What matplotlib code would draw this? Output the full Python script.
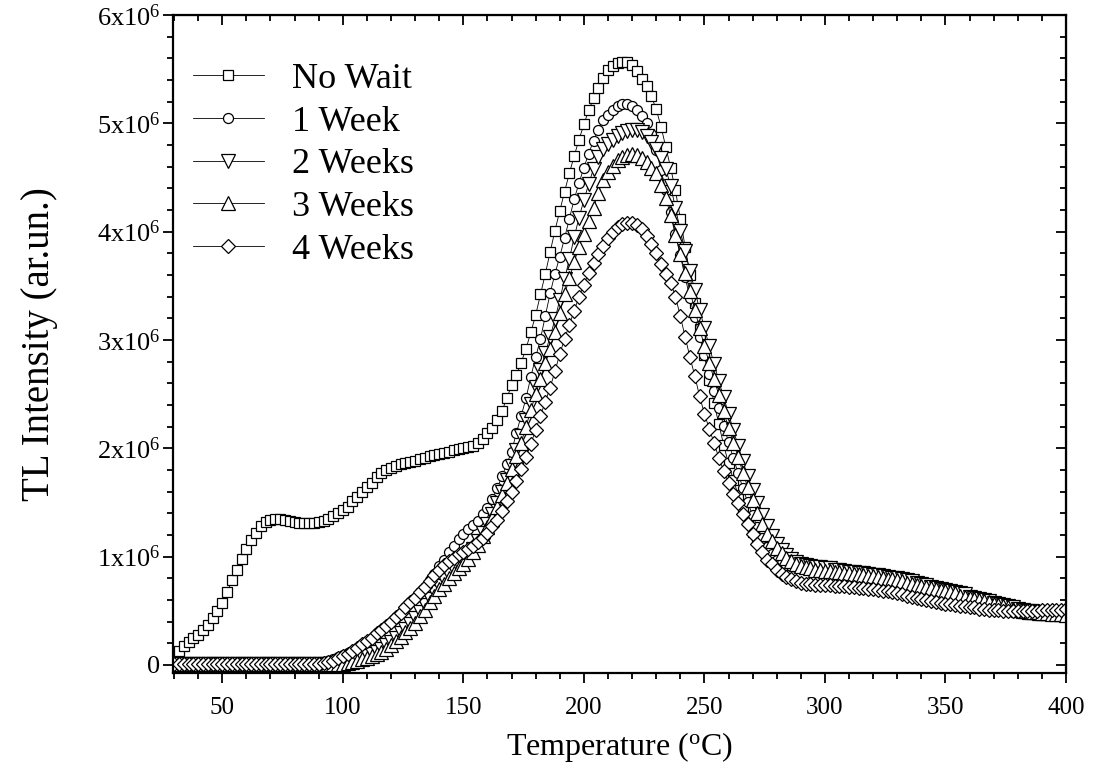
import numpy as np
import matplotlib
matplotlib.use('Agg')
import matplotlib.pyplot as plt
from matplotlib.ticker import MultipleLocator

plt.rcParams['font.family'] = ['Liberation Serif', 'DejaVu Serif']
plt.rcParams['mathtext.fontset'] = 'custom'
plt.rcParams['mathtext.rm'] = 'Liberation Serif'
plt.rcParams['mathtext.it'] = 'Liberation Serif:italic'

# temperature readings, one every 2 degC
temperature = np.arange(30, 401, 2)

# TL intensity in units of 1e6
no_wait = [
    0.09, 0.13, 0.17, 0.21, 0.25, 0.28, 0.32, 0.37, 0.43, 0.50,
    0.57, 0.67, 0.78, 0.88, 0.98, 1.07, 1.15, 1.22, 1.28, 1.32,
    1.34, 1.35, 1.35, 1.34, 1.33, 1.32, 1.31, 1.31, 1.31, 1.31,
    1.32, 1.33, 1.35, 1.37, 1.40, 1.43, 1.46, 1.51, 1.55, 1.60,
    1.64, 1.68, 1.73, 1.77, 1.80, 1.82, 1.84, 1.85, 1.86, 1.87,
    1.88, 1.90, 1.91, 1.93, 1.94, 1.95, 1.96, 1.97, 1.98, 1.99,
    2.00, 2.01, 2.02, 2.05, 2.09, 2.14, 2.19, 2.26, 2.34, 2.46,
    2.58, 2.68, 2.79, 2.92, 3.07, 3.23, 3.42, 3.61, 3.81, 4.01,
    4.19, 4.37, 4.54, 4.70, 4.85, 4.99, 5.12, 5.23, 5.33, 5.42,
    5.49, 5.53, 5.56, 5.57, 5.57, 5.54, 5.48, 5.41, 5.34, 5.25,
    5.13, 4.97, 4.78, 4.59, 4.38, 4.12, 3.86, 3.60, 3.34, 3.10,
    2.86, 2.63, 2.42, 2.22, 2.03, 1.86, 1.71, 1.57, 1.44, 1.33,
    1.23, 1.15, 1.08, 1.03, 0.99, 0.96, 0.94, 0.93, 0.92, 0.91,
    0.91, 0.90, 0.90, 0.89, 0.89, 0.88, 0.88, 0.87, 0.87, 0.86,
    0.86, 0.85, 0.85, 0.84, 0.84, 0.83, 0.82, 0.82, 0.81, 0.80,
    0.79, 0.78, 0.77, 0.76, 0.75, 0.74, 0.73, 0.72, 0.71, 0.70,
    0.68, 0.67, 0.66, 0.65, 0.64, 0.62, 0.61, 0.60, 0.59, 0.58,
    0.57, 0.55, 0.54, 0.52, 0.50, 0.49, 0.48, 0.47, 0.47, 0.46,
    0.46, 0.46, 0.46, 0.46, 0.46, 0.46,
]
week_1 = [
    0.01, 0.01, 0.01, 0.01, 0.01, 0.01, 0.01, 0.01, 0.01, 0.01,
    0.01, 0.01, 0.01, 0.01, 0.01, 0.01, 0.01, 0.01, 0.01, 0.01,
    0.01, 0.01, 0.01, 0.01, 0.01, 0.01, 0.01, 0.02, 0.02, 0.02,
    0.02, 0.03, 0.04, 0.05, 0.07, 0.09, 0.11, 0.13, 0.16, 0.19,
    0.22, 0.25, 0.29, 0.32, 0.36, 0.40, 0.44, 0.48, 0.53, 0.58,
    0.62, 0.67, 0.72, 0.78, 0.84, 0.91, 0.97, 1.04, 1.10, 1.16,
    1.21, 1.25, 1.29, 1.33, 1.39, 1.45, 1.53, 1.63, 1.74, 1.85,
    1.97, 2.14, 2.30, 2.46, 2.66, 2.84, 3.01, 3.22, 3.43, 3.61,
    3.77, 3.94, 4.12, 4.30, 4.45, 4.59, 4.72, 4.84, 4.94, 5.03,
    5.08, 5.12, 5.16, 5.18, 5.18, 5.16, 5.12, 5.07, 5.00, 4.90,
    4.75, 4.57, 4.38, 4.18, 3.98, 3.78, 3.58, 3.39, 3.21, 3.03,
    2.86, 2.69, 2.53, 2.37, 2.21, 2.06, 1.91, 1.77, 1.63, 1.50,
    1.38, 1.27, 1.17, 1.09, 1.02, 0.97, 0.94, 0.92, 0.91, 0.90,
    0.89, 0.89, 0.88, 0.88, 0.87, 0.87, 0.86, 0.86, 0.85, 0.85,
    0.84, 0.84, 0.83, 0.83, 0.82, 0.81, 0.81, 0.80, 0.79, 0.78,
    0.77, 0.76, 0.75, 0.74, 0.73, 0.72, 0.71, 0.70, 0.69, 0.68,
    0.67, 0.66, 0.65, 0.64, 0.63, 0.62, 0.61, 0.60, 0.59, 0.58,
    0.57, 0.56, 0.55, 0.54, 0.53, 0.52, 0.51, 0.50, 0.50, 0.49,
    0.49, 0.49, 0.48, 0.48, 0.48, 0.48,
]
week_2 = [
    0.01, 0.01, 0.01, 0.01, 0.01, 0.01, 0.01, 0.01, 0.01, 0.01,
    0.01, 0.01, 0.01, 0.01, 0.01, 0.01, 0.01, 0.01, 0.01, 0.01,
    0.01, 0.01, 0.01, 0.01, 0.01, 0.01, 0.01, 0.01, 0.01, 0.01,
    0.01, 0.01, 0.01, 0.02, 0.02, 0.02, 0.03, 0.04, 0.05, 0.06,
    0.08, 0.10, 0.12, 0.15, 0.18, 0.21, 0.25, 0.29, 0.33, 0.38,
    0.43, 0.49, 0.55, 0.61, 0.67, 0.73, 0.78, 0.83, 0.88, 0.92,
    0.96, 1.01, 1.07, 1.14, 1.22, 1.30, 1.39, 1.49, 1.60, 1.71,
    1.84, 1.98, 2.11, 2.26, 2.41, 2.57, 2.72, 2.88, 3.03, 3.19,
    3.37, 3.56, 3.75, 3.95, 4.13, 4.29, 4.44, 4.58, 4.69, 4.76,
    4.81, 4.85, 4.88, 4.91, 4.93, 4.94, 4.94, 4.92, 4.88, 4.83,
    4.76, 4.68, 4.58, 4.42, 4.22, 4.01, 3.82, 3.64, 3.46, 3.28,
    3.11, 2.94, 2.78, 2.62, 2.47, 2.32, 2.17, 2.02, 1.88, 1.74,
    1.61, 1.49, 1.38, 1.28, 1.19, 1.12, 1.06, 1.01, 0.98, 0.95,
    0.93, 0.92, 0.91, 0.90, 0.90, 0.89, 0.89, 0.88, 0.88, 0.87,
    0.86, 0.86, 0.85, 0.85, 0.84, 0.83, 0.83, 0.82, 0.81, 0.80,
    0.80, 0.79, 0.78, 0.77, 0.76, 0.75, 0.74, 0.72, 0.71, 0.70,
    0.69, 0.68, 0.67, 0.66, 0.65, 0.63, 0.62, 0.61, 0.60, 0.59,
    0.57, 0.56, 0.55, 0.54, 0.53, 0.52, 0.51, 0.50, 0.50, 0.49,
    0.49, 0.48, 0.48, 0.48, 0.47, 0.47,
]
week_3 = [
    0.01, 0.01, 0.01, 0.01, 0.01, 0.01, 0.01, 0.01, 0.01, 0.01,
    0.01, 0.01, 0.01, 0.01, 0.01, 0.01, 0.01, 0.01, 0.01, 0.01,
    0.01, 0.01, 0.01, 0.01, 0.01, 0.01, 0.01, 0.01, 0.01, 0.01,
    0.01, 0.01, 0.01, 0.01, 0.01, 0.01, 0.02, 0.03, 0.04, 0.05,
    0.06, 0.08, 0.10, 0.12, 0.15, 0.18, 0.22, 0.26, 0.30, 0.34,
    0.39, 0.45, 0.51, 0.58, 0.64, 0.70, 0.75, 0.80, 0.85, 0.89,
    0.93, 0.98, 1.04, 1.11, 1.19, 1.27, 1.36, 1.46, 1.57, 1.68,
    1.81, 1.93, 2.05, 2.20, 2.35, 2.50, 2.64, 2.79, 2.92, 3.07,
    3.25, 3.42, 3.57, 3.72, 3.86, 3.98, 4.10, 4.22, 4.36, 4.48,
    4.55, 4.61, 4.66, 4.69, 4.71, 4.72, 4.71, 4.68, 4.64, 4.59,
    4.54, 4.43, 4.31, 4.15, 3.97, 3.79, 3.62, 3.45, 3.28, 3.11,
    2.94, 2.79, 2.64, 2.49, 2.34, 2.19, 2.05, 1.92, 1.77, 1.64,
    1.52, 1.40, 1.30, 1.21, 1.14, 1.08, 1.03, 0.99, 0.96, 0.93,
    0.91, 0.90, 0.89, 0.88, 0.88, 0.87, 0.87, 0.86, 0.86, 0.85,
    0.85, 0.84, 0.84, 0.83, 0.82, 0.82, 0.81, 0.80, 0.79, 0.79,
    0.78, 0.77, 0.76, 0.75, 0.74, 0.73, 0.72, 0.71, 0.70, 0.69,
    0.68, 0.67, 0.66, 0.64, 0.63, 0.62, 0.61, 0.60, 0.59, 0.58,
    0.56, 0.55, 0.54, 0.53, 0.52, 0.51, 0.50, 0.50, 0.49, 0.49,
    0.48, 0.48, 0.47, 0.47, 0.47, 0.46,
]
week_4 = [
    0.01, 0.01, 0.01, 0.01, 0.01, 0.01, 0.01, 0.01, 0.01, 0.01,
    0.01, 0.01, 0.01, 0.01, 0.01, 0.01, 0.01, 0.01, 0.01, 0.01,
    0.01, 0.01, 0.01, 0.01, 0.01, 0.01, 0.01, 0.01, 0.01, 0.01,
    0.01, 0.02, 0.03, 0.04, 0.06, 0.08, 0.10, 0.13, 0.16, 0.19,
    0.22, 0.25, 0.29, 0.32, 0.36, 0.40, 0.44, 0.48, 0.53, 0.58,
    0.62, 0.67, 0.72, 0.77, 0.83, 0.88, 0.92, 0.96, 0.99, 1.02,
    1.04, 1.07, 1.10, 1.13, 1.17, 1.22, 1.28, 1.34, 1.42, 1.51,
    1.60, 1.70, 1.81, 1.92, 2.04, 2.17, 2.30, 2.43, 2.56, 2.71,
    2.87, 3.01, 3.14, 3.27, 3.40, 3.51, 3.62, 3.71, 3.79, 3.87,
    3.94, 4.00, 4.04, 4.07, 4.08, 4.08, 4.06, 4.02, 3.96, 3.89,
    3.80, 3.70, 3.61, 3.53, 3.40, 3.22, 3.03, 2.84, 2.67, 2.48,
    2.32, 2.18, 2.05, 1.91, 1.79, 1.68, 1.58, 1.49, 1.39, 1.30,
    1.21, 1.12, 1.04, 0.97, 0.93, 0.88, 0.84, 0.81, 0.79, 0.77,
    0.76, 0.75, 0.75, 0.74, 0.74, 0.74, 0.74, 0.73, 0.73, 0.73,
    0.72, 0.72, 0.71, 0.71, 0.70, 0.70, 0.69, 0.68, 0.68, 0.67,
    0.66, 0.65, 0.64, 0.63, 0.62, 0.61, 0.60, 0.59, 0.58, 0.57,
    0.56, 0.56, 0.55, 0.54, 0.54, 0.53, 0.53, 0.52, 0.52, 0.51,
    0.51, 0.51, 0.50, 0.50, 0.50, 0.50, 0.50, 0.50, 0.50, 0.50,
    0.51, 0.51, 0.51, 0.51, 0.51, 0.52,
]

series = [no_wait, week_1, week_2, week_3, week_4]
labels = ['No Wait', '1 Week', '2 Weeks', '3 Weeks', '4 Weeks']
markers = ['s', 'o', 'v', '^', 'D']
marker_sizes = [7.0, 7.2, 10.0, 10.0, 7.0]

x_ticks = [50, 100, 150, 200, 250, 300, 350, 400]
y_ticks = [0, 1e6, 2e6, 3e6, 4e6, 5e6, 6e6]
y_tick_labels = ['0', '1x10$^{6}$', '2x10$^{6}$', '3x10$^{6}$',
                 '4x10$^{6}$', '5x10$^{6}$', '6x10$^{6}$']

fig = plt.figure(figsize=(10.94, 7.74), dpi=100)
ax = fig.add_axes([0.158, 0.1305, 0.8164, 0.8501])

for vals, lab, m, ms in zip(series, labels, markers, marker_sizes):
    ax.plot(temperature, np.array(vals) * 1e6, color='black', lw=0.6,
            marker=m, ms=ms, mfc='white', mec='black', mew=0.9, label=lab)

ax.set_xlim(29.5, 400)
ax.set_ylim(-0.075e6, 6e6)
ax.set_xticks(x_ticks)
ax.set_yticks(y_ticks)
ax.set_yticklabels(y_tick_labels)
ax.xaxis.set_minor_locator(MultipleLocator(10))
ax.yaxis.set_minor_locator(MultipleLocator(0.2e6))
ax.tick_params(which='major', direction='out', length=7, width=1.3,
               labelsize=18)
ax.tick_params(axis='y', which='major', labelsize=19, pad=2)
ax.tick_params(axis='x', which='major', pad=10)
ax.tick_params(which='minor', direction='out', length=4, width=1.3)
for sp in ax.spines.values():
    sp.set_linewidth(1.6)

# inward ticks on the opposite sides
top = ax.secondary_xaxis('top')
top.set_xticks(x_ticks)
top.xaxis.set_minor_locator(MultipleLocator(10))
top.tick_params(which='both', direction='in', labeltop=False, width=1.3)
top.tick_params(which='major', length=7)
top.tick_params(which='minor', length=4)
right = ax.secondary_yaxis('right')
right.set_yticks(y_ticks)
right.yaxis.set_minor_locator(MultipleLocator(0.2e6))
right.tick_params(which='both', direction='in', labelright=False, width=1.3)
right.tick_params(which='major', length=7)
right.tick_params(which='minor', length=4)

ax.set_xlabel('Temperature ($^{\\mathregular{o}}$C)', fontsize=23, labelpad=8)
ax.set_ylabel('TL Intensity (ar.un.)', fontsize=28, labelpad=28)

ax.legend(loc='upper left', bbox_to_anchor=(-0.0056, 0.966), frameon=False,
          numpoints=1, fontsize=26, handlelength=1.95, handletextpad=0.79,
          labelspacing=0.26, borderaxespad=0.3)

fig.savefig('out.png', dpi=100)
